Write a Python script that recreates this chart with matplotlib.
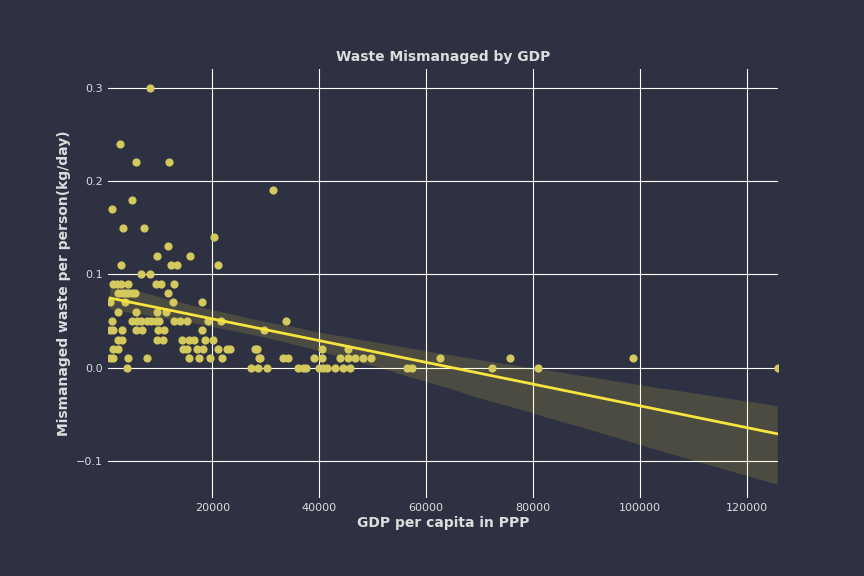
import numpy as np
import pandas as pd
import seaborn as sns
from matplotlib import pyplot as plt

# GDP per capita (PPP) and mismanaged waste (kg/day)
gdp = [
    8400, 2800, 5800, 12000, 4900, 1300, 3400, 7300, 20400, 11800, 9700, 15900,
    3000, 12200, 13500, 21100, 6700, 8400,
    1500, 2200, 3000, 4300, 9400, 10500, 12900,
    2400, 3200, 3700, 4300, 4900, 5600, 11800,
    900, 3700, 12700, 18000,
    2400, 5800, 9700, 11400,
    1300, 5000, 6000, 6700, 7800, 8600, 9400, 10100, 12900, 14000, 15300, 19300, 21700,
    900, 1500, 3200, 5800, 6900, 9900, 11000, 18100,
    2400, 3200, 9700, 10800, 14400, 15700, 16500, 18700, 20200,
    1500, 2400, 14600, 15300, 17200, 18300, 21100, 22800, 23400, 28400,
    900, 1500, 4300, 7800, 15700, 17600, 19500, 21900, 28800,
    4100, 27300, 28600,
    31400, 29700, 33800, 33300, 34200, 28000, 30300, 29000,
    36000, 37000, 37500, 39000, 40000, 40700, 41500, 40500, 40500,
    43000, 44000, 44500, 45500, 45500, 45700, 46700, 48300, 49700,
    56500, 57400, 62600, 72400, 75700, 81000, 98700, 125800,
]
waste = [
    0.30, 0.24, 0.22, 0.22, 0.18, 0.17, 0.15, 0.15, 0.14, 0.13, 0.12, 0.12,
    0.11, 0.11, 0.11, 0.11, 0.10, 0.10,
    0.09, 0.09, 0.09, 0.09, 0.09, 0.09, 0.09,
    0.08, 0.08, 0.08, 0.08, 0.08, 0.08, 0.08,
    0.07, 0.07, 0.07, 0.07,
    0.06, 0.06, 0.06, 0.06,
    0.05, 0.05, 0.05, 0.05, 0.05, 0.05, 0.05, 0.05, 0.05, 0.05, 0.05, 0.05, 0.05,
    0.04, 0.04, 0.04, 0.04, 0.04, 0.04, 0.04, 0.04,
    0.03, 0.03, 0.03, 0.03, 0.03, 0.03, 0.03, 0.03, 0.03,
    0.02, 0.02, 0.02, 0.02, 0.02, 0.02, 0.02, 0.02, 0.02, 0.02,
    0.01, 0.01, 0.01, 0.01, 0.01, 0.01, 0.01, 0.01, 0.01,
    0.00, 0.00, 0.00,
    0.19, 0.04, 0.05, 0.01, 0.01, 0.02, 0.00, 0.01,
    0.00, 0.00, 0.00, 0.01, 0.00, 0.00, 0.00, 0.02, 0.01,
    0.00, 0.01, 0.00, 0.02, 0.01, 0.00, 0.01, 0.01, 0.01,
    0.00, 0.00, 0.01, 0.00, 0.01, 0.00, 0.01, 0.00,
]
df = pd.DataFrame({"gdp": gdp, "waste": waste})

BG = "#2e3142"
fig, ax = plt.subplots(figsize=(8.64, 5.76), dpi=100)
fig.patch.set_facecolor(BG)
ax.set_facecolor(BG)

sns.regplot(data=df, x="gdp", y="waste", ax=ax,
            scatter_kws={"color": "#d4c95c", "s": 24, "alpha": 1, "zorder": 3},
            line_kws={"color": "#f7e43e", "lw": 2, "zorder": 4},
            color="#8a8350")

ax.grid(True, color="white", lw=0.8, zorder=0)
ax.set_axisbelow(True)
for s in ax.spines.values():
    s.set_visible(False)
ax.tick_params(colors="#dddddd", length=0, labelsize=8)
ax.set_yticks([-0.1, 0.0, 0.1, 0.2, 0.3])
ax.set_xticks([20000, 40000, 60000, 80000, 100000, 120000])
ax.set_xlim(500, 125800)
ax.set_ylim(-0.14, 0.32)
ax.set_title("Waste Mismanaged by GDP", color="#dddddd", fontweight="bold", fontsize=10)
ax.set_xlabel("GDP per capita in PPP", color="#dddddd", fontweight="bold", fontsize=10, labelpad=2)
ax.set_ylabel("Mismanaged waste per person(kg/day)", color="#dddddd", fontweight="bold", fontsize=10)

plt.subplots_adjust(left=0.125, right=0.9, top=0.88, bottom=0.135)
plt.savefig("out.png", facecolor=BG)
